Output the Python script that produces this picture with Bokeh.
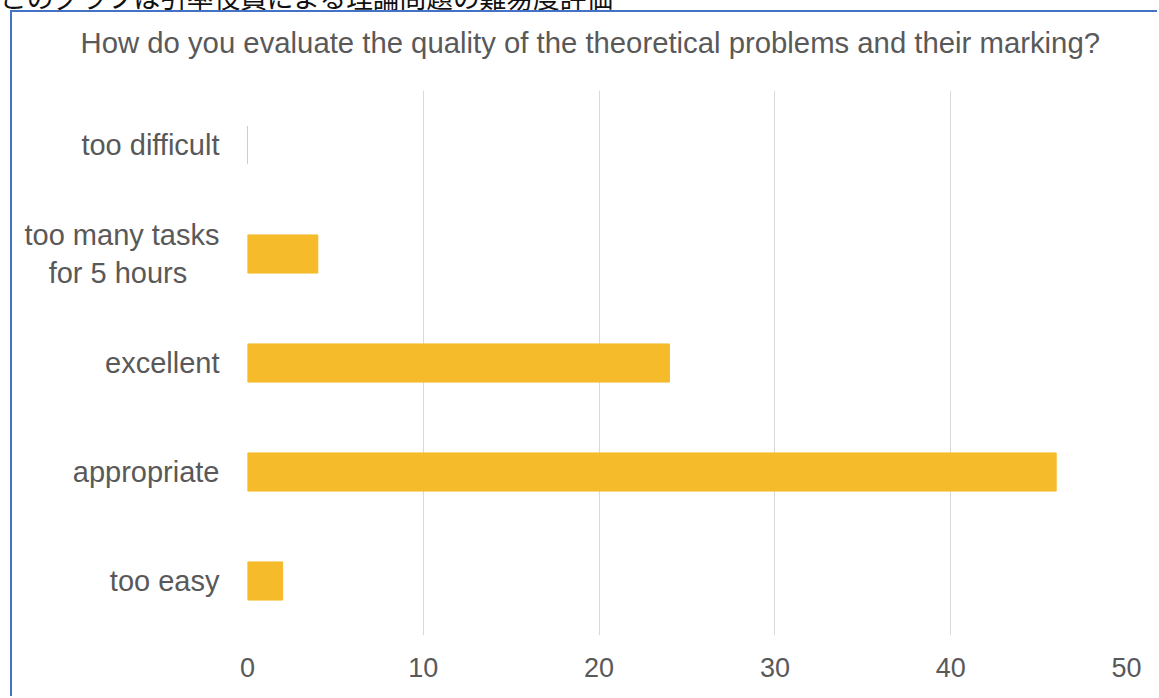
from bokeh.plotting import figure
from bokeh.models import FixedTicker, Div, Title
from bokeh.layouts import column
from bokeh.embed import file_html
from bokeh.resources import INLINE

categories = ["too easy", "appropriate", "excellent",
              "too many tasks\nfor 5 hours\u00a0\u00a0\u00a0\u00a0", "too difficult"]
counts = [2, 46, 24, 4, 0]
x_ticks = [0, 10, 20, 30, 40, 50]
title_text = "How do you evaluate the quality of the theoretical problems and their marking?"
caption_text = "このグラフは引率役員による理論問題の難易度評価"

FONT = "Liberation Sans"
GREY = "#595959"

caption = Div(
    text=('<div style="position:absolute; left:0px; top:-16px; white-space:nowrap; '
          'font-family:\'Noto Sans CJK JP\'; font-size:26.7px; line-height:1; color:#111111;">'
          + caption_text + '</div>'),
    width=1159, height=10, margin=(0, 0, 0, 0),
    styles={"overflow": "hidden", "position": "relative"})

p = figure(width=1147, height=686, y_range=categories, x_range=(0, 50),
           output_backend="svg", toolbar_location=None,
           min_border_left=235, min_border_right=33,
           min_border_top=76, min_border_bottom=63)
p.margin = (0, 0, 0, 10)
p.styles = {"border-left": "2px solid #4472C4", "border-top": "2px solid #4472C4"}

p.hbar(y=categories, right=counts, left=0, height=0.35, color="#F5BB2A")

p.outline_line_color = None
p.background_fill_color = "white"
p.border_fill_color = "white"
p.ygrid.grid_line_color = None
p.xgrid.grid_line_color = "#D9D9D9"
p.xgrid.grid_line_width = 1

p.xaxis.ticker = FixedTicker(ticks=x_ticks)
for ax in (p.xaxis[0], p.yaxis[0]):
    ax.axis_line_color = None
    ax.major_tick_line_color = None
    ax.minor_tick_line_color = None
    ax.major_label_text_font = FONT
    ax.major_label_text_color = GREY

p.xaxis.major_label_text_font_size = "27px"
p.xaxis.major_label_standoff = 16
p.yaxis.major_label_text_font_size = "29px"
p.yaxis.major_label_standoff = 22

# empty spacer between the title and the plot area
p.add_layout(Title(text=" ", text_font_size="1px", standoff=18), "above")

p.title.text = title_text
p.title.align = "left"
p.title.offset = -167
p.title.standoff = 22
p.title.text_font = FONT
p.title.text_font_size = "29.3px"
p.title.text_font_style = "normal"
p.title.text_color = GREY

layout = column(caption, p, spacing=0)
open("out.html", "w").write(file_html(layout, INLINE))
